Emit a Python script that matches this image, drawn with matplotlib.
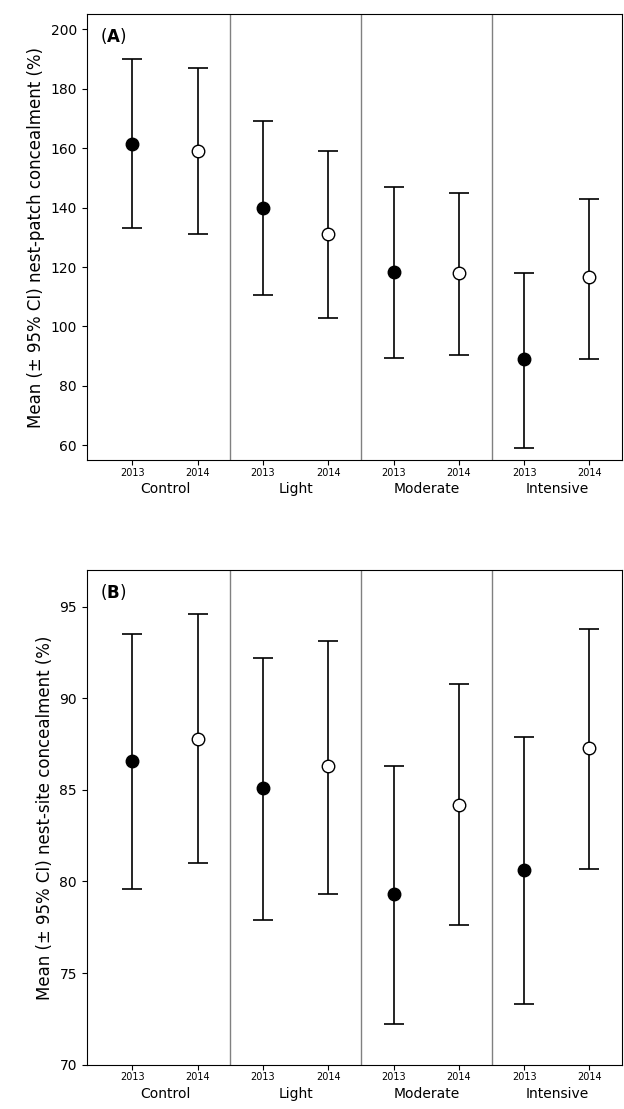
import matplotlib
matplotlib.use("Agg")
import matplotlib.pyplot as plt

groups = ["Control", "Light", "Moderate", "Intensive"]
years = ["2013", "2014"]
a13 = [161.5, 140, 118.5, 89]; a13lo = [133, 110.5, 89.5, 59]; a13hi = [190, 169, 147, 118]
a14 = [159, 131, 118, 116.5]; a14lo = [131, 103, 90.5, 89]; a14hi = [187, 159, 145, 143]
b13 = [86.6, 85.1, 79.3, 80.6]; b13lo = [79.6, 77.9, 72.2, 73.3]; b13hi = [93.5, 92.2, 86.3, 87.9]
b14 = [87.8, 86.3, 84.2, 87.3]; b14lo = [81.0, 79.3, 77.6, 80.7]; b14hi = [94.6, 93.1, 90.8, 93.8]

fig = plt.figure(figsize=(6.24, 11.09), dpi=100)
axA = fig.add_axes([0.139, 0.585, 0.858, 0.402])
axB = fig.add_axes([0.139, 0.040, 0.858, 0.446])

def draw(ax, m13, l13, h13, m14, l14, h14, ylim, ticks, ylabel, tag):
    for i in range(4):
        for j, (m, l, h, fc) in enumerate([(m13, l13, h13, "black"), (m14, l14, h14, "white")]):
            x = 2 * i + j
            ax.errorbar([x], [m[i]], yerr=[[m[i] - l[i]], [h[i] - m[i]]], fmt="o",
                        color="black", mfc=fc, mec="black", ms=9, capsize=7,
                        elinewidth=1.2, capthick=1.2)
    for d in [1.5, 3.5, 5.5]:
        ax.axvline(d, color="gray", lw=1)
    ax.set_xlim(-0.7, 7.5)
    ax.set_ylim(*ylim)
    ax.set_yticks(ticks)
    ax.set_xticks(range(8))
    ax.set_xticklabels(years * 4, fontsize=7)
    ax.tick_params(axis="x", pad=2)
    for i, g in enumerate(groups):
        ax.annotate(g, (2 * i + 0.5, 0), xycoords=ax.get_xaxis_transform(),
                    xytext=(0, -16), textcoords="offset points",
                    ha="center", va="top", fontsize=10)
    ax.set_ylabel(ylabel, fontsize=12)
    ax.tick_params(axis="y", labelsize=10)
    ax.text(0.025, 0.975, "(" + r"$\bf{" + tag + "}$)", transform=ax.transAxes,
            va="top", fontsize=12)

draw(axA, a13, a13lo, a13hi, a14, a14lo, a14hi, (55, 205), range(60, 201, 20),
     "Mean (± 95% CI) nest-patch concealment (%)", "A")
draw(axB, b13, b13lo, b13hi, b14, b14lo, b14hi, (70, 97), range(70, 96, 5),
     "Mean (± 95% CI) nest-site concealment (%)", "B")
fig.savefig("out.png", dpi=100)
